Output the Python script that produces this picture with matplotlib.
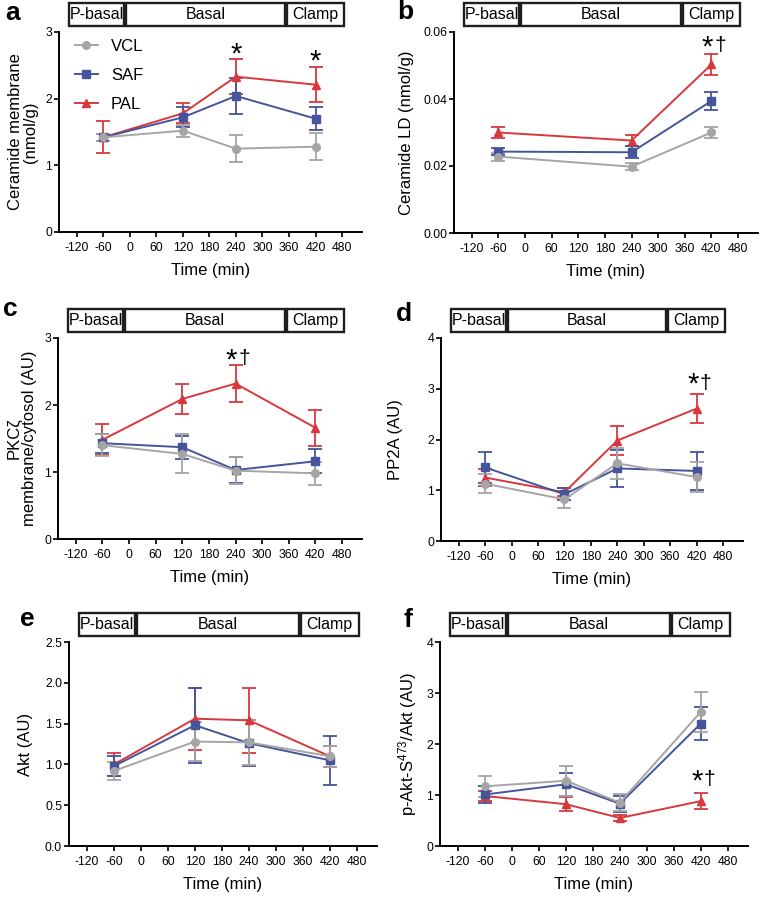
import numpy as np
import matplotlib.pyplot as plt
from matplotlib.patches import Rectangle
from matplotlib.transforms import ScaledTranslation, blended_transform_factory

plt.rcParams['font.family'] = ['Liberation Sans', 'DejaVu Sans']
plt.rcParams['mathtext.fontset'] = 'custom'
plt.rcParams['mathtext.rm'] = 'Liberation Sans'
plt.rcParams['mathtext.it'] = 'Liberation Sans:italic'
plt.rcParams['axes.linewidth'] = 1.4

COLORS = {'VCL': '#a5a5a5', 'SAF': '#45549b', 'PAL': '#d8383d'}
MARKERS = {'VCL': 'o', 'SAF': 's', 'PAL': '^'}

# ---- data (mean, SEM) ----
time = [-60, 120, 240, 420]
time_b = [-60, 240, 420]

a_vcl = [1.42, 1.52, 1.25, 1.28]
a_vcl_err = [0.05, 0.09, 0.20, 0.20]
a_saf = [1.42, 1.72, 2.04, 1.70]
a_saf_err = [0.05, 0.15, 0.27, 0.17]
a_pal = [1.42, 1.78, 2.33, 2.21]
a_pal_err = [0.24, 0.15, 0.26, 0.26]

b_vcl = [0.0228, 0.0198, 0.0300]
b_vcl_err = [0.0012, 0.0010, 0.0016]
b_saf = [0.0243, 0.0241, 0.0394]
b_saf_err = [0.0010, 0.0018, 0.0027]
b_pal = [0.0300, 0.0276, 0.0503]
b_pal_err = [0.0017, 0.0017, 0.0032]

c_vcl = [1.40, 1.27, 1.02, 0.98]
c_vcl_err = [0.16, 0.29, 0.20, 0.17]
c_saf = [1.43, 1.37, 1.03, 1.16]
c_saf_err = [0.14, 0.17, 0.20, 0.18]
c_pal = [1.48, 2.09, 2.32, 1.66]
c_pal_err = [0.23, 0.23, 0.27, 0.27]

d_vcl = [1.13, 0.82, 1.53, 1.26]
d_vcl_err = [0.19, 0.17, 0.30, 0.29]
d_saf = [1.45, 0.92, 1.43, 1.38]
d_saf_err = [0.30, 0.12, 0.36, 0.37]
d_pal = [1.25, 0.96, 1.98, 2.61]
d_pal_err = [0.16, 0.08, 0.28, 0.29]

e_vcl = [0.92, 1.28, 1.27, 1.10]
e_vcl_err = [0.11, 0.24, 0.28, 0.13]
e_saf = [0.98, 1.48, 1.26, 1.05]
e_saf_err = [0.12, 0.46, 0.28, 0.30]
e_pal = [1.00, 1.56, 1.54, 1.10]
e_pal_err = [0.14, 0.38, 0.40, 0.13]

f_vcl = [1.17, 1.28, 0.85, 2.63]
f_vcl_err = [0.21, 0.29, 0.17, 0.39]
f_saf = [1.01, 1.21, 0.83, 2.40]
f_saf_err = [0.16, 0.23, 0.16, 0.32]
f_pal = [0.98, 0.82, 0.55, 0.88]
f_pal_err = [0.10, 0.14, 0.05, 0.15]

x_ticks = [-120, -60, 0, 60, 120, 180, 240, 300, 360, 420, 480]
phases = [('P-basal', -137, -13), ('Basal', -8, 351), ('Clamp', 355, 484)]

W, H = 762, 897
fig = plt.figure(figsize=(W / 100, H / 100), dpi=100)

# label shifts (px) seen in the original x tick labels
tick_shift = [-4, -8, 0, 0, 0, -4, -9, -4, -3, -2, -1]


def make_axes(l, t, r, b):
    return fig.add_axes([l / W, 1 - b / H, (r - l) / W, (b - t) / H])


def px(dx, dy=0):
    return ScaledTranslation(dx / 100, dy / 100, fig.dpi_scale_trans)


def panel(box, x, series, ylim, yticks, ylabel, ylab_right, letter, letter_xy,
          yfmt=None, stars=(), legend=False):
    l, t, r, b = box
    ax = make_axes(l, t, r, b)
    w_px, h_px = r - l, b - t
    handles = {}
    for name in ['PAL', 'SAF', 'VCL']:
        y, err = series[name]
        ax.errorbar(x, y, yerr=err, fmt='none', ecolor=COLORS[name],
                    elinewidth=1.3, capsize=5, capthick=1.3, zorder=2)
        ln, = ax.plot(x, y, color=COLORS[name], marker=MARKERS[name], ms=5.5,
                      lw=1.4, label=name, zorder=3)
        handles[name] = ln
    ax.set_xlim(-160, 525)
    ax.set_ylim(*ylim)
    ax.set_yticks(yticks)
    if yfmt:
        ax.set_yticklabels([yfmt.format(v) for v in yticks])
    ax.set_xticks(x_ticks)
    ax.set_xticklabels([str(v) for v in x_ticks])
    for lab, dx in zip(ax.get_xticklabels(), tick_shift):
        lab.set_transform(lab.get_transform() + px(dx))
    ax.tick_params(axis='both', labelsize=8.8, length=3.5, width=1.4, color='#222222')
    ax.tick_params(axis='x', pad=4)
    ax.tick_params(axis='y', pad=1.5)
    ax.spines['top'].set_visible(False)
    ax.spines['right'].set_visible(False)

    ax.set_xlabel('Time (min)', fontsize=12)
    ax.xaxis.set_label_coords(0.5, -31 / h_px)
    ax.set_ylabel(ylabel, fontsize=12, linespacing=1.0)
    ax.yaxis.set_label_coords(-(l - ylab_right) / w_px, 0.5)

    # phase boxes above the plot
    tr = blended_transform_factory(ax.transData, ax.transAxes)
    for name, x0, x1 in phases:
        ax.add_patch(Rectangle((x0, 1 + 6 / h_px), x1 - x0, 23 / h_px, transform=tr,
                               facecolor='white', edgecolor='#1e1e1e', lw=1.7, clip_on=False))
        ax.text((x0 + x1) / 2, 1 + 17.5 / h_px, name, transform=tr, ha='center',
                va='center', fontsize=11.5)

    # significance marks: y is the visual centre of the asterisk
    for sx, sy, dagger in stars:
        dx = -4 if dagger else 0
        ax.text(sx, sy, '*', ha='center', va='baseline', fontsize=21,
                transform=ax.transData + px(dx, -12))
        if dagger:
            ax.text(sx, sy, '\u2020', ha='center', va='baseline', fontsize=15,
                    transform=ax.transData + px(9, -8))

    fig.text(letter_xy[0] / W, 1 - letter_xy[1] / H, letter, fontsize=19,
             fontweight='bold', ha='left', va='baseline')

    if legend:
        ax.legend([handles['VCL'], handles['SAF'], handles['PAL']], ['VCL', 'SAF', 'PAL'],
                  loc='upper left', bbox_to_anchor=(16 / w_px, 1 - 7 / h_px),
                  frameon=False, fontsize=12, handlelength=1.35, handletextpad=0.8,
                  labelspacing=0.85, borderpad=0, borderaxespad=0)
    return ax


panel((59, 32, 362, 232), time,
      {'VCL': (a_vcl, a_vcl_err), 'SAF': (a_saf, a_saf_err), 'PAL': (a_pal, a_pal_err)},
      (0, 3), [0, 1, 2, 3], 'Ceramide membrane\n(nmol/g)', 38, 'a', (5, 20),
      stars=[(240, 2.715, False), (420, 2.617, False)], legend=True)

panel((454, 32, 758, 233), time_b,
      {'VCL': (b_vcl, b_vcl_err), 'SAF': (b_saf, b_saf_err), 'PAL': (b_pal, b_pal_err)},
      (0, 0.06), [0, 0.02, 0.04, 0.06], 'Ceramide LD (nmol/g)', 414, 'b', (397, 19),
      yfmt='{:.2f}', stars=[(420, 0.0566, True)])

panel((58, 338, 362, 539), time,
      {'VCL': (c_vcl, c_vcl_err), 'SAF': (c_saf, c_saf_err), 'PAL': (c_pal, c_pal_err)},
      (0, 3), [0, 1, 2, 3], 'PKC\u03b6\nmembrane/cytosol (AU)', 37, 'c', (3, 316),
      stars=[(240, 2.725, True)])

panel((441, 338, 743, 541), time,
      {'VCL': (d_vcl, d_vcl_err), 'SAF': (d_saf, d_saf_err), 'PAL': (d_pal, d_pal_err)},
      (0, 4), [0, 1, 2, 3, 4], 'PP2A (AU)', 403, 'd', (396, 321),
      stars=[(420, 3.16, True)])

panel((69, 642, 377, 846), time,
      {'VCL': (e_vcl, e_vcl_err), 'SAF': (e_saf, e_saf_err), 'PAL': (e_pal, e_pal_err)},
      (0, 2.5), [0, 0.5, 1.0, 1.5, 2.0, 2.5], 'Akt (AU)', 33, 'e', (20, 626),
      yfmt='{:.1f}')

panel((440, 642, 748, 846), time,
      {'VCL': (f_vcl, f_vcl_err), 'SAF': (f_saf, f_saf_err), 'PAL': (f_pal, f_pal_err)},
      (0, 4), [0, 1, 2, 3, 4], 'p-Akt-S$^{473}$/Akt (AU)', 419, 'f', (404, 627),
      stars=[(420, 1.345, True)])

fig.savefig('out.png', dpi=100, facecolor='white')
